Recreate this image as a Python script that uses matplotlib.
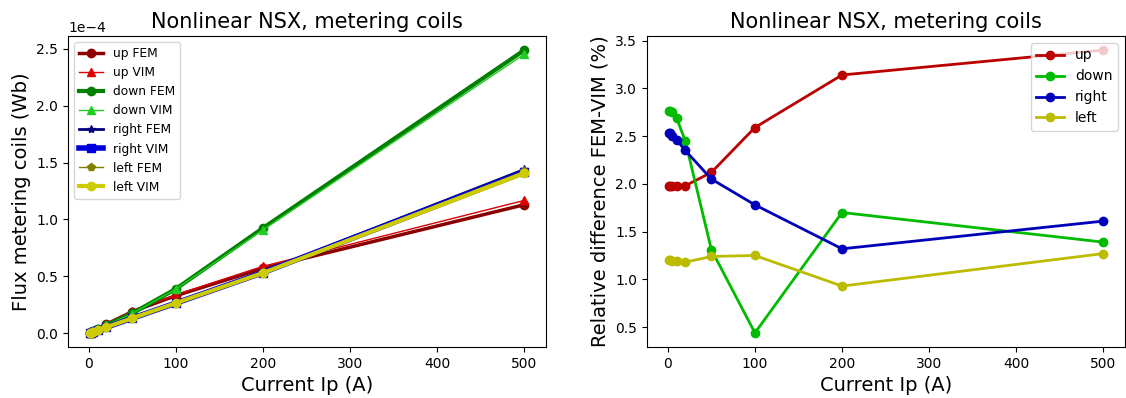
"""
Nonlinear NSX metering coils: flux and FEM/VIM relative difference
"""
import numpy as np
import matplotlib
matplotlib.use('Agg')
import matplotlib.pyplot as plt

################################################################################
# Data
################################################################################
current     = [1, 2, 5, 10, 20, 50, 100, 200, 500]

# Flux in metering coils (Wb)
up_fem      = np.array([0.0039, 0.0078, 0.0195, 0.039, 0.078, 0.19, 0.33, 0.57, 1.13]) * 1e-4
up_vim      = np.array([0.0040, 0.0080, 0.0199, 0.040, 0.080, 0.194, 0.338, 0.588, 1.168]) * 1e-4
down_fem    = np.array([0.0035, 0.0070, 0.0175, 0.035, 0.070, 0.175, 0.39, 0.925, 2.49]) * 1e-4
down_vim    = np.array([0.0034, 0.0068, 0.0170, 0.034, 0.068, 0.173, 0.388, 0.909, 2.455]) * 1e-4
right_fem   = np.array([0.0027, 0.0054, 0.0135, 0.027, 0.054, 0.135, 0.27, 0.54, 1.44]) * 1e-4
right_vim   = np.array([0.00265, 0.0053, 0.0132, 0.0264, 0.0527, 0.132, 0.265, 0.533, 1.417]) * 1e-4
left_fem    = np.array([0.0027, 0.0054, 0.0134, 0.0268, 0.0535, 0.134, 0.268, 0.535, 1.425]) * 1e-4
left_vim    = np.array([0.00267, 0.0053, 0.0132, 0.0265, 0.0528, 0.132, 0.265, 0.53, 1.407]) * 1e-4

# Relative difference FEM-VIM (%)
up_diff     = [1.98, 1.98, 1.98, 1.98, 1.98, 2.12, 2.59, 3.14, 3.40]
down_diff   = [2.76, 2.76, 2.75, 2.69, 2.45, 1.31, 0.44, 1.70, 1.39]
right_diff  = [2.53, 2.53, 2.50, 2.46, 2.35, 2.05, 1.78, 1.32, 1.61]
left_diff   = [1.20, 1.20, 1.19, 1.19, 1.18, 1.24, 1.25, 0.93, 1.27]

################################################################################
# Plot
################################################################################
fig = plt.figure(figsize = (11.26, 3.98), dpi = 100)
ax_flux = fig.add_axes([68 / 1126, 51 / 398, 478 / 1126, 311 / 398])
ax_diff = fig.add_axes([647 / 1126, 51 / 398, 478 / 1126, 311 / 398])

########################################
# Flux
########################################
ax = ax_flux
ax.plot(current, up_fem, color = '#8b0000', marker = 'o', lw = 2.5, label = 'up FEM')
ax.plot(current, up_vim, color = '#dd0000', marker = '^', lw = 1, label = 'up VIM')
ax.plot(current, down_fem, color = '#008000', marker = 'o', lw = 3, label = 'down FEM')
ax.plot(current, down_vim, color = '#22cc22', marker = '^', lw = 1, label = 'down VIM')
ax.plot(current, right_fem, color = '#000080', marker = '*', lw = 2, label = 'right FEM')
ax.plot(current, right_vim, color = '#0000dd', marker = 's', lw = 4, label = 'right VIM')
ax.plot(current, left_fem, color = '#808000', marker = 'p', lw = 1, label = 'left FEM')
ax.plot(current, left_vim, color = '#cccc00', marker = 'o', lw = 3, label = 'left VIM')
ax.ticklabel_format(axis = 'y', style = 'sci', scilimits = (0, 0))
ax.set_xlabel('Current Ip (A)', fontsize = 14)
ax.set_ylabel('Flux metering coils (Wb)', fontsize = 14)
ax.set_title('Nonlinear NSX, metering coils', fontsize = 15)
ax.legend(fontsize = 8.8, loc = 'upper left')

########################################
# Relative difference
########################################
ax = ax_diff
ax.plot(current, up_diff, color = '#bb0000', marker = 'o', lw = 2, label = 'up')
ax.plot(current, down_diff, color = '#00bb00', marker = 'o', lw = 2, label = 'down')
ax.plot(current, right_diff, color = '#0000bb', marker = 'o', lw = 2, label = 'right')
ax.plot(current, left_diff, color = '#bbbb00', marker = 'o', lw = 2, label = 'left')
ax.set_xlabel('Current Ip (A)', fontsize = 14)
ax.set_ylabel('Relative difference FEM-VIM (%)', fontsize = 14)
ax.set_title('Nonlinear NSX, metering coils', fontsize = 15)
ax.legend(fontsize = 10, loc = 'upper right')

fig.savefig('out.png')
